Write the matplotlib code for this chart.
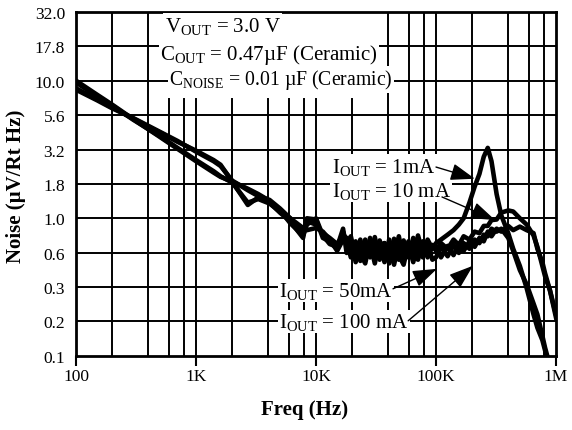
import numpy as np
import matplotlib.pyplot as plt
from matplotlib.ticker import NullLocator

plt.rcParams['font.family'] = 'Liberation Serif'
plt.rcParams['mathtext.fontset'] = 'custom'
plt.rcParams['mathtext.rm'] = 'Liberation Serif'

# --- data ---
freq = [100, 150, 200, 300, 500, 700, 1000, 1400, 1600, 2000, 2700, 3300,
        4100, 5000, 6100, 7800, 8400, 10000, 11400, 13000, 15000, 16800,
        18000, 19500, 21400, 23400, 25700, 28200, 30900, 33900, 37200, 40700,
        44700, 49000, 53700, 58900, 64600, 70800, 77600, 85100, 93300,
        100000, 110000, 125000, 140000, 155000, 170000, 190000, 210000,
        230000, 250000, 270000, 290000, 320000, 350000, 400000, 440000,
        500000, 570000, 650000, 700000, 770000, 810000, 890000, 1000000]

noise_1ma = [10.0, 7.9, 6.7, 5.25, 3.9, 3.2, 2.6, 2.15, 2.0, 1.85, 1.25, 1.42,
             1.3, 1.1, 0.95, 0.72, 1.0, 0.98, 0.72, 0.68, 0.6, 0.8,
             0.66, 0.74, 0.52, 0.7, 0.5, 0.72, 0.55, 0.68, 0.48, 0.7,
             0.53, 0.74, 0.5, 0.68, 0.54, 0.75, 0.56, 0.7, 0.6,
             0.66, 0.7, 0.76, 0.82, 0.9, 1.0, 1.3, 1.7,
             2.1, 2.8, 3.25, 2.6, 1.5, 1.05, 0.78, 0.6,
             0.45, 0.31, 0.2, 0.16, 0.13, 0.11, 0.08, 0.06]

noise_10ma = [9.7, 7.7, 6.6, 5.2, 3.95, 3.25, 2.65, 2.2, 2.02, 1.82, 1.3, 1.38,
              1.28, 1.12, 1.0, 0.8, 0.95, 0.9, 0.78, 0.72, 0.65, 0.75,
              0.72, 0.55, 0.68, 0.49, 0.7, 0.52, 0.73, 0.5, 0.66, 0.47,
              0.71, 0.5, 0.69, 0.52, 0.72, 0.54, 0.68, 0.56, 0.64,
              0.58, 0.66, 0.6, 0.7, 0.64, 0.74, 0.7, 0.8,
              0.78, 0.88, 0.88, 0.97, 0.98, 1.1, 1.14, 1.12,
              1.0, 0.9, 0.75, 0.62, 0.45, 0.38, 0.3, 0.19]

noise_50ma = [8.8, 7.3, 6.4, 5.3, 4.2, 3.6, 3.1, 2.65, 2.45, 1.85, 1.64, 1.5,
              1.34, 1.15, 0.92, 0.75, 0.9, 1.0, 0.75, 0.65, 0.62, 0.84,
              0.56, 0.7, 0.48, 0.67, 0.52, 0.66, 0.47, 0.69, 0.53, 0.64,
              0.46, 0.67, 0.52, 0.64, 0.48, 0.66, 0.52, 0.64, 0.5,
              0.52, 0.62, 0.53, 0.64, 0.56, 0.66, 0.6, 0.7,
              0.66, 0.76, 0.74, 0.84, 0.8, 0.84, 0.72, 0.58,
              0.42, 0.33, 0.24, 0.2, 0.14, 0.115, 0.085, 0.06]

noise_100ma = [8.6, 7.2, 6.3, 5.35, 4.25, 3.65, 3.05, 2.6, 2.4, 1.88, 1.6, 1.45,
               1.36, 1.18, 1.0, 0.85, 0.82, 0.85, 0.8, 0.7, 0.58, 0.7,
               0.69, 0.52, 0.65, 0.55, 0.47, 0.68, 0.51, 0.64, 0.66, 0.48,
               0.67, 0.54, 0.46, 0.65, 0.53, 0.5, 0.66, 0.52, 0.62,
               0.62, 0.52, 0.63, 0.54, 0.65, 0.58, 0.68, 0.62,
               0.72, 0.68, 0.8, 0.74, 0.84, 0.8, 0.88, 0.82,
               0.87, 0.82, 0.78, 0.6, 0.48, 0.4, 0.3, 0.2]

x_ticks = [100, 1e3, 1e4, 1e5, 1e6]
x_labels = ["100", "1K", "10K", "100K", "1M"]
y_labels = ["0.1", "0.2", "0.3", "0.6", "1.0", "1.8", "3.2", "5.6",
            "10.0", "17.8", "32.0"]

# --- figure ---
fig = plt.figure(figsize=(5.72, 4.31), dpi=100)
ax = fig.add_axes([0.133, 0.172, 0.839, 0.798])
ax.set_xscale("log")
ax.set_yscale("log")
ax.set_xlim(100, 1e6)
ax.set_ylim(0.1, 10 ** 1.5)

y_ticks = 10 ** (np.arange(-4, 7) / 4)
ax.set_xticks(x_ticks, x_labels)
ax.set_yticks(y_ticks, y_labels)
ax.xaxis.set_minor_locator(NullLocator())
ax.yaxis.set_minor_locator(NullLocator())
ax.tick_params(axis="x", direction="out", length=7, width=1.5,
               labelsize=12.5, pad=2)
ax.tick_params(axis="y", length=0, labelsize=12.5, pad=8)

# grid: vertical lines under the condition box stop short
for yt in y_ticks[1:-1]:
    ax.axhline(yt, color="black", lw=1.4, zorder=1)
for d in range(2, 6):
    for m in (1, 2, 4, 6, 8):
        f = m * 10 ** d
        if f == 100:
            continue
        top = 0.747 if 500 < f < 35000 else 1.0
        ax.axvline(f, ymax=top, color="black", lw=1.4, zorder=1)

for s in ax.spines.values():
    s.set_linewidth(2)

for series in (noise_1ma, noise_10ma, noise_50ma, noise_100ma):
    ax.plot(freq, series, color="black", lw=3.3, zorder=2)

box = dict(fc="white", ec="none", pad=1)
ax.text(0.185, 0.945, r"$\mathregular{V_{OUT}}$ = 3.0 V", fontsize=15,
        transform=ax.transAxes, va="baseline", bbox=box, zorder=3)
ax.text(0.175, 0.863, r"$\mathregular{C_{OUT}}$ = 0.47µF (Ceramic)",
        fontsize=15, transform=ax.transAxes, va="baseline", bbox=box,
        zorder=3)
ax.text(0.194, 0.79, r"$\mathregular{C_{NOISE}}$ = 0.01 µF (Ceramic)",
        fontsize=14.2, transform=ax.transAxes, va="baseline", bbox=box,
        zorder=3)

labels = [
    (r"$\mathregular{I_{OUT}}$ = 1mA", (0.533, 0.535), (0.75, 0.549), (0.831, 0.515)),
    (r"$\mathregular{I_{OUT}}$ = 10 mA", (0.533, 0.465), (0.7625, 0.462), (0.873, 0.395)),
    (r"$\mathregular{I_{OUT}}$ = 50mA", (0.423, 0.174), (0.6604, 0.195), (0.752, 0.253)),
    (r"$\mathregular{I_{OUT}}$ = 100 mA", (0.423, 0.084), (0.692, 0.102), (0.827, 0.262)),
]
for txt, pos, tail, tip in labels:
    ax.text(pos[0], pos[1], txt, fontsize=15, transform=ax.transAxes,
            va="baseline", bbox=box, zorder=3)
    ax.annotate("", xy=tip, xytext=tail, xycoords="axes fraction",
                textcoords="axes fraction", zorder=4,
                arrowprops=dict(arrowstyle="-|>,head_length=1.0,head_width=0.35",
                                color="black", lw=1, mutation_scale=15,
                                shrinkA=0, shrinkB=0))

fig.text(305 / 572, 1 - 410 / 431, "Freq (Hz)", ha="center", va="center",
         fontsize=15, fontweight="bold")
fig.text(16 / 572, 1 - 186 / 431, "Noise (µV/Rt Hz)", ha="center",
         va="center", rotation=90, fontsize=15, fontweight="bold")

fig.savefig("out.png", dpi=100)
